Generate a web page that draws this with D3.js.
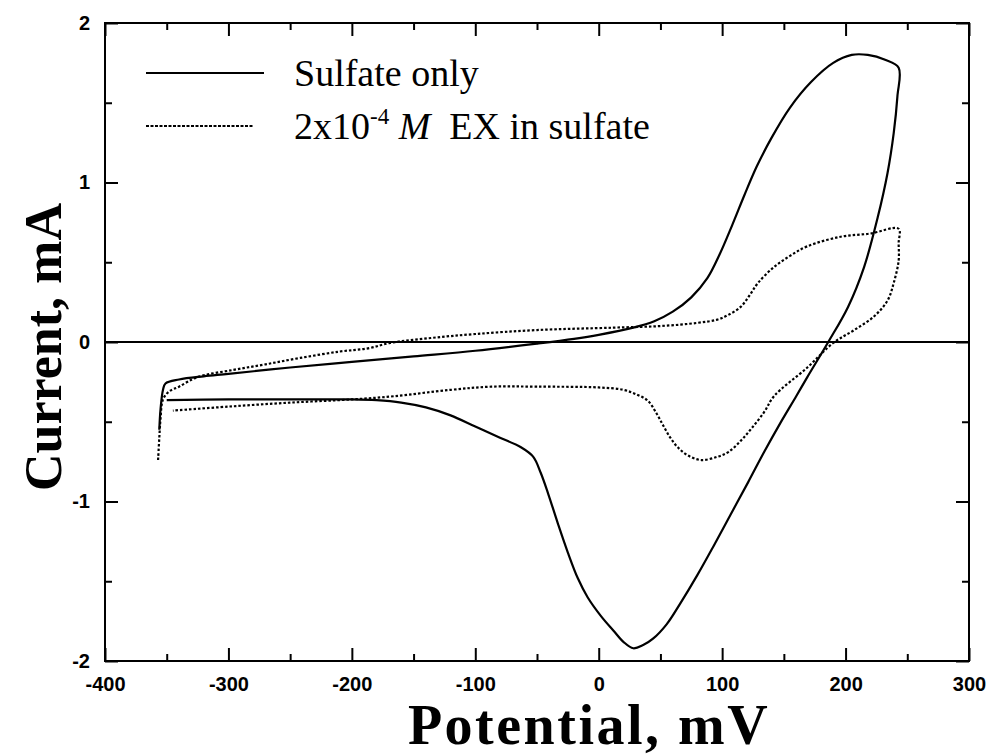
<!DOCTYPE html>
<html>
<head>
<meta charset="utf-8">
<script src="https://cdn.jsdelivr.net/npm/d3@7"></script>
<style>
  body { margin: 0; background: #fff; }
  svg { display: block; }
</style>
</head>
<body>
<svg id="chart" width="989" height="755"></svg>
<script>
var width = 989;
var height = 755;
var margin = { left: 105, right: 20, top: 23, bottom: 94 };

// potential (mV) and current (mA), sulfate only
var sulfateV = [-356, -355, -353, -351, -340, -320, -300, -250, -200, -150, -100, -50, -20, 0, 28, 45, 60, 75, 88, 98, 108, 118, 128, 140, 155, 172, 190, 205, 218, 232, 243,
    242, 239, 234, 226, 215, 202, 186, 169, 160, 147, 134, 121, 107, 93, 80, 66, 55, 44, 36, 28, 20, 12, 2, -9, -17, -25, -33, -41, -47, -53, -63, -80, -100, -120, -140, -160, -180, -200, -250, -300, -350];
var sulfateI = [-0.55, -0.42, -0.30, -0.26, -0.235, -0.215, -0.2, -0.16, -0.125, -0.09, -0.055, -0.01, 0.02, 0.045, 0.09, 0.13, 0.19, 0.28, 0.40, 0.55, 0.73, 0.92, 1.1, 1.28, 1.47, 1.63, 1.75, 1.8, 1.8, 1.77, 1.72,
    1.54, 1.31, 1.06, 0.78, 0.47, 0.22, 0, -0.22, -0.34, -0.51, -0.69, -0.88, -1.08, -1.28, -1.46, -1.64, -1.77, -1.86, -1.9, -1.92, -1.88, -1.81, -1.72, -1.6, -1.48, -1.32, -1.14, -0.95, -0.82, -0.72, -0.66, -0.6, -0.53, -0.46, -0.41, -0.38, -0.365, -0.36, -0.36, -0.36, -0.365];

// 2x10^-4 M EX in sulfate
var exV = [-357, -356, -355, -353, -348, -340, -325, -296, -270, -242, -210, -187, -169, -136, -100, -50, 12, 50, 80, 96, 105, 115, 122, 129, 142, 155, 169, 196, 220, 243,
    243, 243, 239, 234, 223, 207, 190, 169, 142, 134, 124, 115, 105, 96, 83, 72, 64, 58, 52, 47, 40, 31, 20, 0, -50, -87, -120, -166, -200, -250, -300, -345];
var exI = [-0.74, -0.6, -0.48, -0.36, -0.31, -0.28, -0.22, -0.175, -0.14, -0.1, -0.06, -0.04, -0.006, 0.025, 0.05, 0.075, 0.09, 0.1, 0.12, 0.14, 0.17, 0.22, 0.29, 0.37, 0.47, 0.54, 0.6, 0.66, 0.68, 0.71,
    0.62, 0.51, 0.37, 0.26, 0.16, 0.075, -0.006, -0.16, -0.34, -0.44, -0.54, -0.62, -0.69, -0.72, -0.74, -0.71, -0.66, -0.6, -0.52, -0.45, -0.37, -0.33, -0.3, -0.285, -0.28, -0.28, -0.3, -0.34, -0.36, -0.38, -0.405, -0.43];

var xTicks = [-400, -300, -200, -100, 0, 100, 200, 300];
var xMinor = [-350, -250, -150, -50, 50, 150, 250];
var yTicks = [-2, -1, 0, 1, 2];
var yMinor = [-1.5, -0.5, 0.5, 1.5];

var svg = d3.select("#chart");

var x = d3.scaleLinear().domain([-400, 300]).range([margin.left, width - margin.right]);
var y = d3.scaleLinear().domain([-2, 2]).range([height - margin.bottom, margin.top]);

var tickFont = "'Liberation Sans', Arial, sans-serif";
var serif = "'Liberation Serif', 'Times New Roman', serif";

function styleAxis(g) {
    g.select(".domain").remove();
    g.selectAll("line").attr("stroke", "#000").attr("stroke-width", 2);
    g.selectAll("text")
        .style("font-family", tickFont)
        .style("font-size", "20px")
        .style("font-weight", "bold")
        .attr("fill", "#000");
}

var major = 13, minor = 7;
var plain = function (d) { return String(d); };

svg.append("g").attr("transform", "translate(0," + y(-2) + ")")
    .call(d3.axisBottom(x).tickValues(xTicks).tickSize(-major).tickPadding(16).tickFormat(plain))
    .call(styleAxis);
svg.append("g").attr("transform", "translate(0," + y(-2) + ")")
    .call(d3.axisBottom(x).tickValues(xMinor).tickSize(-minor).tickFormat(""))
    .call(styleAxis);
svg.append("g").attr("transform", "translate(0," + y(2) + ")")
    .call(d3.axisTop(x).tickValues(xTicks).tickSize(-major).tickFormat(""))
    .call(styleAxis);
svg.append("g").attr("transform", "translate(0," + y(2) + ")")
    .call(d3.axisTop(x).tickValues(xMinor).tickSize(-minor).tickFormat(""))
    .call(styleAxis);

svg.append("g").attr("transform", "translate(" + x(-400) + ",0)")
    .call(d3.axisLeft(y).tickValues(yTicks).tickSize(-major).tickPadding(15).tickFormat(plain))
    .call(styleAxis);
svg.append("g").attr("transform", "translate(" + x(-400) + ",0)")
    .call(d3.axisLeft(y).tickValues(yMinor).tickSize(-minor).tickFormat(""))
    .call(styleAxis);
svg.append("g").attr("transform", "translate(" + x(300) + ",0)")
    .call(d3.axisRight(y).tickValues(yTicks).tickSize(-major).tickFormat(""))
    .call(styleAxis);
svg.append("g").attr("transform", "translate(" + x(300) + ",0)")
    .call(d3.axisRight(y).tickValues(yMinor).tickSize(-minor).tickFormat(""))
    .call(styleAxis);

// frame
svg.append("rect")
    .attr("x", x(-400))
    .attr("y", y(2))
    .attr("width", x(300) - x(-400))
    .attr("height", y(-2) - y(2))
    .attr("fill", "none")
    .attr("stroke", "#000")
    .attr("stroke-width", 2);

// zero line
svg.append("line")
    .attr("x1", x(-400)).attr("x2", x(300))
    .attr("y1", y(0)).attr("y2", y(0))
    .attr("stroke", "#000")
    .attr("stroke-width", 2);

var line = d3.line()
    .x(function (d) { return x(d[0]); })
    .y(function (d) { return y(d[1]); })
    .curve(d3.curveCatmullRom.alpha(0.5));

var sulfate = d3.zip(sulfateV, sulfateI);
var ex = d3.zip(exV, exI);

svg.append("path")
    .datum(sulfate)
    .attr("d", line)
    .attr("fill", "none")
    .attr("stroke", "#000")
    .attr("stroke-width", 2.2);

svg.append("path")
    .datum(ex)
    .attr("d", line)
    .attr("fill", "none")
    .attr("stroke", "#000")
    .attr("stroke-width", 2.2)
    .attr("stroke-dasharray", "2.5,2");

// legend
svg.append("line")
    .attr("x1", 146).attr("x2", 264).attr("y1", 73).attr("y2", 73)
    .attr("stroke", "#000").attr("stroke-width", 2);
svg.append("line")
    .attr("x1", 146).attr("x2", 253).attr("y1", 126).attr("y2", 126)
    .attr("stroke", "#000").attr("stroke-width", 2).attr("stroke-dasharray", "3,1.5");

svg.append("text")
    .attr("x", 294).attr("y", 86)
    .style("font-family", serif)
    .style("font-size", "38px")
    .text("Sulfate only");

var t2 = svg.append("text")
    .attr("x", 294).attr("y", 139)
    .style("font-family", serif)
    .style("font-size", "38px");
t2.append("tspan").text("2x10");
t2.append("tspan").attr("dy", -15).style("font-size", "23px").text("-4");
t2.append("tspan").attr("dy", 15).text(" ");
t2.append("tspan").style("font-style", "italic").text("M");
t2.append("tspan").text("\u00a0 EX in sulfate");

// axis titles
svg.append("text")
    .attr("x", 589).attr("y", 744)
    .attr("text-anchor", "middle")
    .style("font-family", serif)
    .style("font-weight", "bold")
    .style("font-size", "56px")
    .style("letter-spacing", "2.5px")
    .text("Potential, mV");

svg.append("text")
    .attr("transform", "translate(61,347) rotate(-90)")
    .attr("text-anchor", "middle")
    .style("font-family", serif)
    .style("font-weight", "bold")
    .style("font-size", "52px")
    .text("Current, mA");
</script>
</body>
</html>
